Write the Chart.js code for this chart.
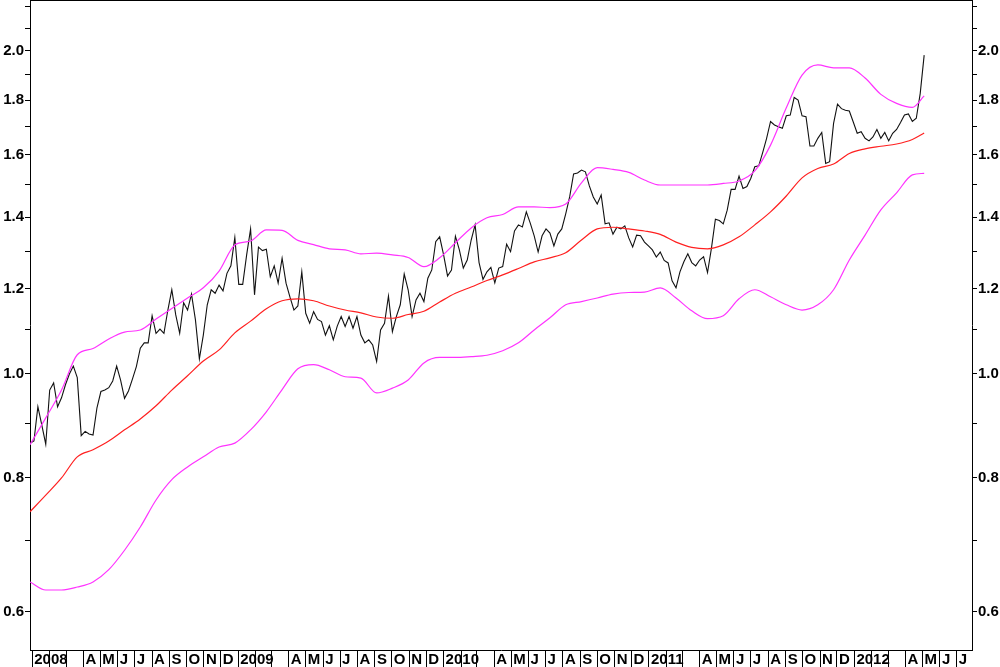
<!DOCTYPE html>
<html><head><meta charset="utf-8">
<script src="https://cdn.jsdelivr.net/npm/chart.js@4/dist/chart.umd.min.js"></script>
<style>html,body{margin:0;padding:0;background:#fff;}#wrap{width:1000px;height:667px;}</style>
</head><body><div id="wrap"><canvas id="c" width="1000" height="667"></canvas></div>
<script>
// ---- data ----
const startDate = '2007-12-28';          // first weekly observation
const closeValues = [
0.862,0.866,0.932,0.896,0.860,0.966,0.981,0.932,0.950,0.977,1.000,1.017,0.992,0.876,0.884,0.879,0.877,0.930,0.963,0.966,
0.971,0.985,1.017,0.987,0.949,0.964,0.989,1.016,1.057,1.069,1.069,1.133,1.091,1.101,1.091,1.147,1.198,1.135,1.091,1.165,
1.147,1.187,1.123,1.033,1.087,1.160,1.198,1.189,1.210,1.195,1.241,1.261,1.340,1.212,1.212,1.291,1.365,1.185,1.313,1.303,
1.307,1.232,1.261,1.215,1.282,1.215,1.179,1.147,1.157,1.245,1.139,1.115,1.143,1.124,1.119,1.087,1.109,1.076,1.108,1.131,
1.107,1.131,1.103,1.131,1.087,1.069,1.076,1.064,1.027,1.099,1.115,1.182,1.095,1.131,1.160,1.239,1.198,1.131,1.172,1.189,
1.168,1.228,1.250,1.328,1.342,1.291,1.234,1.250,1.344,1.305,1.255,1.277,1.333,1.377,1.270,1.225,1.245,1.257,1.216,1.255,
1.259,1.321,1.300,1.359,1.377,1.371,1.416,1.382,1.345,1.299,1.345,1.365,1.353,1.316,1.350,1.365,1.410,1.462,1.536,1.539,
1.549,1.543,1.497,1.462,1.440,1.468,1.380,1.383,1.350,1.370,1.365,1.374,1.339,1.313,1.347,1.345,1.327,1.316,1.305,1.285,
1.299,1.276,1.269,1.221,1.203,1.245,1.272,1.294,1.270,1.261,1.277,1.286,1.243,1.310,1.394,1.390,1.380,1.421,1.486,1.486,
1.529,1.489,1.495,1.522,1.560,1.563,1.608,1.658,1.719,1.706,1.700,1.694,1.740,1.743,1.810,1.800,1.740,1.737,1.631,1.631,
1.658,1.679,1.571,1.577,1.712,1.784,1.767,1.761,1.758,1.717,1.676,1.682,1.658,1.649,1.663,1.690,1.658,1.679,1.649,1.676,
1.690,1.715,1.743,1.747,1.719,1.731,1.826,1.982
];
const bandWeeks = [0,4,8,12,16,20,24,28,32,36,40,44,48,52,56,60,64,68,72,76,80,84,88,92,96,100,104,108,112,116,120,124,128,132,136,140,144,148,152,156,160,164,168,172,176,180,184,188,192,196,200,204,208,212,216,220,224,227];
const movingAverage = [0.744,0.771,0.800,0.837,0.850,0.866,0.887,0.908,0.934,0.966,0.996,1.028,1.053,1.092,1.120,1.150,1.170,1.175,1.170,1.157,1.147,1.140,1.130,1.127,1.136,1.144,1.167,1.189,1.205,1.222,1.237,1.254,1.272,1.283,1.297,1.333,1.365,1.370,1.365,1.359,1.349,1.327,1.312,1.308,1.319,1.342,1.377,1.416,1.465,1.523,1.554,1.569,1.605,1.621,1.630,1.638,1.654,1.677];
const upperBand = [0.859,0.910,0.966,1.042,1.056,1.078,1.094,1.099,1.125,1.151,1.177,1.203,1.247,1.319,1.330,1.362,1.361,1.332,1.320,1.308,1.305,1.294,1.296,1.291,1.284,1.259,1.283,1.325,1.368,1.398,1.408,1.431,1.431,1.429,1.440,1.507,1.557,1.551,1.541,1.516,1.500,1.500,1.500,1.500,1.505,1.513,1.546,1.634,1.770,1.899,1.941,1.929,1.929,1.887,1.822,1.787,1.772,1.816];
const lowerBand = [0.640,0.629,0.629,0.633,0.640,0.657,0.685,0.720,0.763,0.797,0.819,0.837,0.855,0.862,0.887,0.922,0.967,1.011,1.020,1.009,0.994,0.991,0.960,0.970,0.987,1.024,1.036,1.036,1.038,1.041,1.051,1.069,1.099,1.128,1.160,1.168,1.177,1.187,1.191,1.192,1.203,1.177,1.145,1.126,1.133,1.175,1.198,1.180,1.160,1.147,1.160,1.198,1.277,1.347,1.422,1.475,1.533,1.538];
const yTickValues = [0.6,0.7,0.8,0.9,1.0,1.1,1.2,1.3,1.4,1.5,1.6,1.7,1.8,1.9,2.0,2.1,2.2];
const yLabelledTicks = [0.6,0.8,1.0,1.2,1.4,1.6,1.8,2.0];
const monthLetters = ['', '', '', 'A', 'M', 'J', 'J', 'A', 'S', 'O', 'N', 'D']; // January shows the year
const axisStartDate = '2007-12-28';
const axisEndDate = '2012-07-28';
const yMin = 0.553, yMax = 2.231;

// ---- helpers ----
const DAY = 86400000;
const base = Date.UTC(2008, 0, 1);
const dayOf = s => (Date.parse(s + 'T00:00:00Z') - base) / DAY;
const firstDay = dayOf(startDate);
const xMin = dayOf(axisStartDate), xMax = dayOf(axisEndDate);
const closeData = closeValues.map((v, i) => ({x: firstDay + 7 * i, y: v}));
const toBand = arr => arr.map((v, i) => ({x: firstDay + 7 * bandWeeks[i], y: v}));

const monthTicks = [];
for (let yr = 2008; yr <= 2012; yr++) {
  for (let m = 0; m < 12; m++) {
    const d = (Date.UTC(yr, m, 1) - base) / DAY;
    if (d >= xMin && d <= xMax) monthTicks.push({value: d, label: m === 0 ? String(yr) : monthLetters[m]});
  }
}

const FONT = "'Liberation Sans',Arial,sans-serif";

const frame = {
  id: 'frame',
  afterDraw(chart) {
    const {ctx, chartArea: a} = chart;
    ctx.save();
    ctx.strokeStyle = '#000'; ctx.lineWidth = 1;
    ctx.beginPath(); ctx.moveTo(a.left, a.top + 0.5); ctx.lineTo(a.right, a.top + 0.5); ctx.stroke();
    ctx.restore();
  }
};

const yAxis = (pos, w) => ({
  type: 'logarithmic', position: pos, min: yMin, max: yMax,
  afterBuildTicks: s => { s.ticks = yTickValues.map(v => ({value: v})); },
  afterFit: s => { s.width = w; s.paddingTop = 0; s.paddingBottom = 0; },
  grid: {display: true, drawOnChartArea: false, drawTicks: true, tickLength: 5, color: '#000', lineWidth: 1},
  border: {display: true, color: '#000', width: 1},
  ticks: {
    autoSkip: false, padding: 1, color: '#000',
    font: {family: FONT, size: 15, weight: 'bold'},
    callback: v => yLabelledTicks.some(t => Math.abs(t - v) < 1e-6) ? v.toFixed(1) : ''
  }
});

new Chart(document.getElementById('c'), {
  type: 'line',
  data: {
    datasets: [
      {label: 'Upper band', data: toBand(upperBand), borderColor: '#ff33ff', borderWidth: 1.2, cubicInterpolationMode: 'monotone', pointRadius: 0},
      {label: 'Lower band', data: toBand(lowerBand), borderColor: '#ff33ff', borderWidth: 1.2, cubicInterpolationMode: 'monotone', pointRadius: 0},
      {label: 'Moving average', data: toBand(movingAverage), borderColor: '#ff2020', borderWidth: 1.2, cubicInterpolationMode: 'monotone', pointRadius: 0},
      {label: 'Price', data: closeData, borderColor: '#111', borderWidth: 1.1, tension: 0, pointRadius: 0}
    ]
  },
  options: {
    responsive: false, animation: false, devicePixelRatio: 1,
    layout: {padding: 0},
    plugins: {legend: {display: false}, tooltip: {enabled: false}},
    scales: {
      x: {
        type: 'linear', position: 'bottom', min: xMin, max: xMax,
        afterBuildTicks: s => { s.ticks = monthTicks.map(t => ({value: t.value})); },
        afterFit: s => { s.height = 17; s.paddingLeft = 0; s.paddingRight = 0; },
        grid: {display: true, drawOnChartArea: false, drawTicks: true, tickLength: 17, color: '#000', lineWidth: 1},
        border: {display: true, color: '#000', width: 1},
        ticks: {
          autoSkip: false, maxRotation: 0, minRotation: 0, align: 'start', labelOffset: 2, padding: -16,
          color: '#000', font: {family: FONT, size: 15, weight: 'bold'},
          callback: (v, i) => monthTicks[i] ? monthTicks[i].label : ''
        }
      },
      y: yAxis('left', 30),
      y2: yAxis('right', 28)
    }
  },
  plugins: [frame]
});
</script></body></html>
